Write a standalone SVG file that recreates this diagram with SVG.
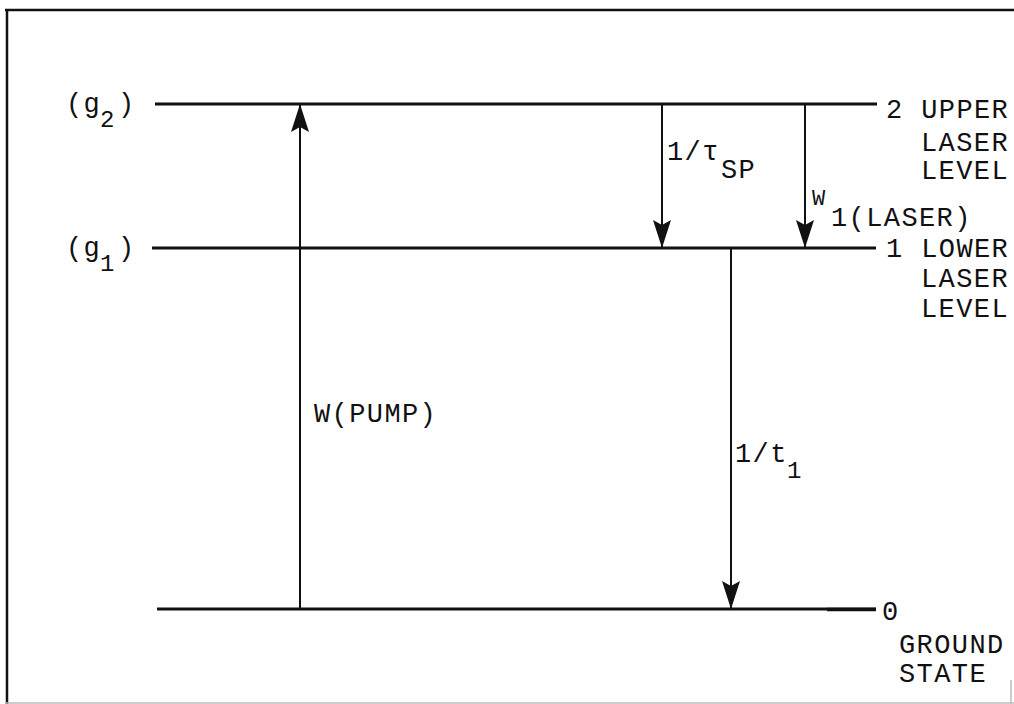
<svg xmlns="http://www.w3.org/2000/svg" width="1014" height="704" viewBox="0 0 1014 704">
<style>
  text { font-family: "Liberation Mono", "DejaVu Sans Mono", monospace; font-size: 27px; letter-spacing: 1.4px; fill: #111; }
  .sub { font-size: 24px; letter-spacing: 0; }
  .lvl { stroke: #111; stroke-width: 3; fill: none; }
  .arr { stroke: #111; stroke-width: 2; fill: none; marker-end: url(#ah); }
  .frame { stroke: #111; stroke-width: 2.5; fill: none; }
</style>
<defs>
  <marker id="ah" viewBox="0 0 28 18" refX="28" refY="9" markerWidth="28" markerHeight="18" markerUnits="userSpaceOnUse" orient="auto">
    <path d="M0,0 L28,9 L0,18 L5,9 Z" fill="#111"/>
  </marker>
</defs>
<rect width="1014" height="704" fill="#fff"/>
<g id="frame">
  <path class="frame" d="M5,10 L1014,10 M7,10 L7,704"/>
  <path d="M5,703 L1014,703" stroke="#bbb" stroke-width="1.5"/>
  <path d="M1011,680 L1011,704" stroke="#bbb" stroke-width="1.5"/>
</g>
<g id="level2">
  <line class="lvl" x1="155" y1="104" x2="877" y2="104"/>
  <text x="66" y="112">(g</text><text class="sub" x="100" y="127">2</text><text x="118" y="112">)</text>
  <text x="886" y="118">2 UPPER</text>
  <text x="921" y="151">LASER</text>
  <text x="921" y="179">LEVEL</text>
</g>
<g id="level1">
  <line class="lvl" x1="152" y1="248" x2="876" y2="248"/>
  <text x="66" y="256">(g</text><text class="sub" x="100" y="271">1</text><text x="118" y="256">)</text>
  <text x="886" y="257">1 LOWER</text>
  <text x="921" y="287">LASER</text>
  <text x="921" y="317">LEVEL</text>
</g>
<g id="level0">
  <line class="lvl" x1="157" y1="609" x2="876" y2="609"/>
  <line x1="827" y1="609.5" x2="876" y2="609.5" stroke="#111" stroke-width="3.5"/>
  <text x="882" y="620">0</text>
  <text x="899" y="653">GROUND</text>
  <text x="899" y="682">STATE</text>
</g>
<g id="connectors">
  <line class="arr" x1="300" y1="609" x2="300" y2="104"/>
  <line class="arr" x1="662" y1="104" x2="662" y2="248"/>
  <line class="arr" x1="805" y1="104" x2="805" y2="248"/>
  <line class="arr" x1="731" y1="248" x2="731" y2="609"/>
</g>
<g id="labels">
  <text x="314" y="422">W(PUMP)</text>
  <text x="667" y="160">1/τ</text><text x="721" y="178">SP</text>
  <text x="812" y="205" style="font-size:22px;letter-spacing:0">W</text>
  <text x="831" y="226">1(LASER)</text>
  <text x="735" y="462">1/t</text><text class="sub" x="787" y="478">1</text>
</g>
</svg>
